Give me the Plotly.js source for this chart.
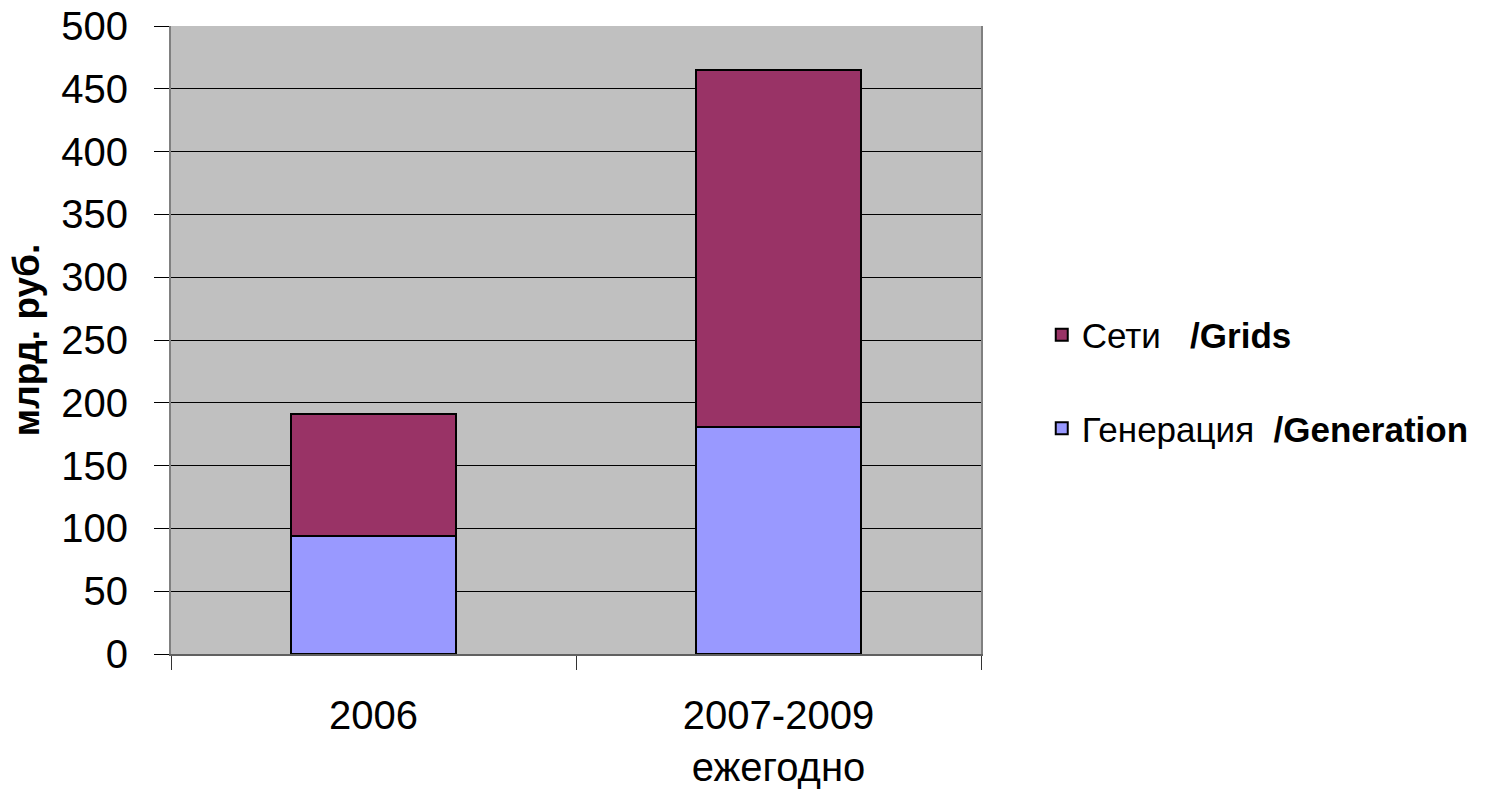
<!DOCTYPE html>
<html><head><meta charset="utf-8">
<script src="https://cdn.plot.ly/plotly-3.0.1.min.js"></script>
<style>html,body{margin:0;padding:0;background:#fff;}</style>
</head><body>
<div id="chart" style="width:1498px;height:792px;"></div>
<script>
const categories = ["2006", "2007-2009<br>ежегодно"];
const generation = [94, 181];
const grids = [97, 284];
const seriesNames = ["Генерация&nbsp;&nbsp;<b>/Generation</b>", "Сети&nbsp;&nbsp;&nbsp;<b>/Grids</b>"];

const traces = [
  {type: "bar", x: categories, y: generation, name: seriesNames[0], legendgroup: "g", legendrank: 2,
   marker: {color: "#9999FF", line: {color: "#000", width: 2}}},
  {type: "bar", x: categories, y: grids, name: seriesNames[1], legendgroup: "s", legendrank: 1,
   marker: {color: "#993366", line: {color: "#000", width: 2}}}
];

const layout = {
  width: 1498, height: 792,
  margin: {l: 171, r: 517, t: 26, b: 138},
  paper_bgcolor: "#fff", plot_bgcolor: "#C0C0C0",
  font: {family: "Liberation Sans, Arial, sans-serif", color: "#000", size: 34},
  barmode: "stack", bargap: 0.595,
  showlegend: true,
  legend: {x: 1.075, y: 0.555, xanchor: "left", yanchor: "top",
           traceorder: "grouped", tracegroupgap: 45,
           font: {size: 35}, bgcolor: "rgba(0,0,0,0)"},
  xaxis: {type: "category", tickson: "boundaries", ticks: "outside", ticklen: 14,
          tickcolor: "#333", showline: true, linecolor: "#606060", linewidth: 2,
          showgrid: false, tickfont: {size: 40}, automargin: false, ticklabelstandoff: 25},
  yaxis: {range: [0, 500], dtick: 50, ticks: "outside", ticklen: 15, tickcolor: "#000",
          showline: true, linecolor: "#808080", linewidth: 2, mirror: true,
          showgrid: true, gridcolor: "#000", gridwidth: 1, zeroline: false,
          tickfont: {size: 40}, automargin: false, ticklabelstandoff: 18,
          title: {text: "<b>млрд. руб.</b>", font: {size: 37}, standoff: 10}}
};

Plotly.newPlot("chart", traces, layout, {displayModeBar: false, staticPlot: true});
</script>
</body></html>
